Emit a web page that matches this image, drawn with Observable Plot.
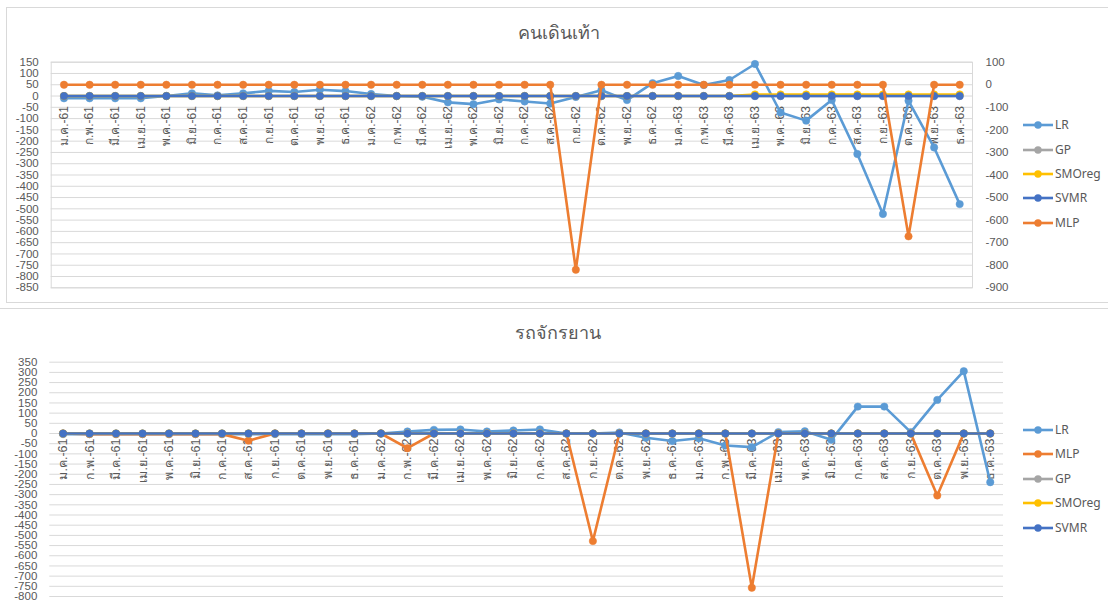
<!DOCTYPE html>
<html><head><meta charset="utf-8">
<script src="https://cdn.jsdelivr.net/npm/d3@7"></script>
<script src="https://cdn.jsdelivr.net/npm/@observablehq/plot@0.6"></script>
<style>
body{margin:0;background:#fff;font-family:"Noto Sans","Liberation Sans",sans-serif;}
#wrap{position:relative;width:1108px;height:609px;overflow:hidden;background:#fff;}
.title{position:absolute;font-size:18px;color:#595959;text-align:center;width:400px;line-height:20px;}
.leg{position:absolute;font-size:12px;color:#595959;line-height:14px;white-space:nowrap;}
</style></head><body><div id="wrap"></div>
<script>
// ---- categories ----
const monthNames = ["ม.ค.","ก.พ.","มี.ค.","เม.ย.","พ.ค.","มิ.ย.","ก.ค.","ส.ค.","ก.ย.","ต.ค.","พ.ย.","ธ.ค."];
const years = ["61","62","63"];
const months = years.flatMap(y => monthNames.map(m => `${m}-${y}`));

// ---- chart 1: คนเดินเท้า ----
const pedTitle = "คนเดินเท้า";
const pedLR = [-10,-10,-10,-10,0,12,3,12,23,18,28,22,
               9,0,-3,-28,-36,-15,-24,-33,-4,26,-18,57,
               89,49,71,142,-73,-109,-18,-257,-523,-21,-228,-479];
const pedGP = [0,0,0,0,0,0,0,0,0,0,0,0, 0,0,0,0,0,0,0,0,0,0,0,0, 0,0,0,0,0,0,0,0,0,0,0,0];
const pedSMOreg = [0,0,0,0,0,0,0,0,0,0,0,0, 0,0,0,0,0,0,0,0,0,0,0,0, 0,0,0,7,7,7,7,7,7,7,7,7];
const pedSVMR = [0,0,0,0,0,0,0,0,0,0,0,0, 0,0,0,0,0,0,0,0,0,0,0,0, 0,0,0,0,0,0,0,0,0,0,0,0];
// MLP is on the secondary (right) axis
const pedMLP = [0,0,0,0,0,0,0,0,0,0,0,0, 0,0,0,0,0,0,0,0,-820,0,0,0, 0,0,0,0,0,0,0,0,0,-672,0,0];
const pedLeftTicks = [150,100,50,0,-50,-100,-150,-200,-250,-300,-350,-400,-450,-500,-550,-600,-650,-700,-750,-800,-850];
const pedRightTicks = [100,0,-100,-200,-300,-400,-500,-600,-700,-800,-900];
const pedSecondaryOffset = 50; // secondary axis value v sits at primary value v + 50

// ---- chart 2: รถจักรยาน ----
const bikeTitle = "รถจักรยาน";
const bikeLR = [-3,-3,-3,-3,-3,-3,-3,-3,-3,-3,-3,-3,
                0,10,18,20,10,15,20,0,0,5,-21,-37,
                -23,-59,-67,7,11,-31,132,132,7,165,306,-239];
const bikeMLP = [0,-3,-3,-3,-3,-3,-3,-35,0,0,0,0,
                 0,-72,0,0,0,0,0,0,-528,0,0,0,
                 0,0,-757,0,0,0,0,0,0,-304,0,0];
const bikeGP = [0,0,0,0,0,0,0,0,0,0,0,0, 0,0,0,0,0,0,0,0,0,0,0,0, 0,0,0,0,0,0,0,0,0,0,0,0];
const bikeSMOreg = [0,0,0,0,0,0,0,0,0,0,0,0, 0,0,0,0,0,0,0,0,0,0,0,0, 0,0,0,0,0,0,0,0,0,0,0,0];
const bikeSVMR = [0,0,0,0,0,0,0,0,0,0,0,0, 0,0,0,0,0,0,0,0,0,0,0,0, 0,0,0,0,0,0,0,0,0,0,0,0];
const bikeTicks = [350,300,250,200,150,100,50,0,-50,-100,-150,-200,-250,-300,-350,-400,-450,-500,-550,-600,-650,-700,-750,-800];

const colors = {LR:"#5B9BD5", GP:"#A5A5A5", SMOreg:"#FFC000", SVMR:"#4472C4", MLP:"#ED7D31"};

const wrap = document.getElementById("wrap");
function add(el, css){ Object.assign(el.style, css); wrap.appendChild(el); return el; }

// category index positions on a linear x scale: each category occupies one unit
const idx = months.map((m,i) => i);

function seriesMarks(series){
  const marks = [];
  for (const s of series){
    const rows = months.map((m,i) => ({i, month:m, value:s.values[i]}));
    marks.push(Plot.line(rows, {x:"i", y:"value", stroke:colors[s.name], strokeWidth:2.6, strokeLinejoin:"round", strokeLinecap:"round"}));
    marks.push(Plot.dot(rows, {x:"i", y:"value", r:3.7, fill:colors[s.name], stroke:colors[s.name], strokeWidth:0.5}));
  }
  return marks;
}

function legend(names, x, ys){
  names.forEach((n,i) => {
    const svg = document.createElementNS("http://www.w3.org/2000/svg","svg");
    svg.setAttribute("width", 34); svg.setAttribute("height", 10);
    svg.innerHTML = `<line x1="1" y1="5" x2="31" y2="5" stroke="${colors[n]}" stroke-width="2.6"/><circle cx="16" cy="5" r="3.7" fill="${colors[n]}"/>`;
    add(svg, {position:"absolute", left:(x-1)+"px", top:(ys[i]-5)+"px"});
    const t = document.createElement("div");
    t.className = "leg"; t.textContent = n;
    add(t, {left:(x+32)+"px", top:(ys[i]-7)+"px"});
  });
}

// panel borders
add(document.createElement("div"), {position:"absolute", left:"6px", top:"7px", width:"1120px", height:"296px", border:"1px solid #d9d9d9", boxSizing:"border-box"});
add(document.createElement("div"), {position:"absolute", left:"0px", top:"308px", width:"1108px", height:"0px", borderTop:"1px solid #d9d9d9"});

const xScale = {type:"linear", domain:[-0.5, months.length - 0.5], axis:null, nice:false};

// ---- top chart ----
const topPlot = Plot.plot({
  width:1108, height:304,
  marginTop:61.7, marginBottom:16.7, marginLeft:50.7, marginRight:136,
  style:{color:"#595959", fontSize:"11.5px", fontFamily:'"Liberation Sans", "Noto Sans", sans-serif', background:"transparent", overflow:"visible"},
  x:xScale,
  y:{domain:[-850,150], axis:null},
  marks:[
    Plot.ruleY(pedLeftTicks, {stroke:"#d9d9d9", strokeWidth:1}),
    Plot.frame({stroke:"#d9d9d9"}),
    Plot.axisY(pedLeftTicks, {anchor:"left", tickSize:0, tickPadding:12.5, tickFormat:d => String(d), label:null}),
    Plot.axisY(pedRightTicks.map(v => v + pedSecondaryOffset), {anchor:"right", tickSize:0, tickPadding:13, tickFormat:d => String(d - pedSecondaryOffset), label:null}),
    Plot.text(idx, {x:d => d, y:() => 0, text:d => months[d], rotate:-90, textAnchor:"end", dy:10, fontSize:12, fill:"#595959"}),
    ...seriesMarks([
      {name:"LR", values:pedLR},
      {name:"GP", values:pedGP},
      {name:"SMOreg", values:pedSMOreg},
      {name:"SVMR", values:pedSVMR},
      {name:"MLP", values:pedMLP.map(v => v + pedSecondaryOffset)}
    ])
  ]
});
add(topPlot, {position:"absolute", left:"0px", top:"0px"});
const t1 = document.createElement("div"); t1.className="title"; t1.textContent = pedTitle;
add(t1, {left:(559-200)+"px", top:"22px"});
legend(["LR","GP","SMOreg","SVMR","MLP"], 1023, [125.3,149.6,173.9,198.2,222.5]);

// ---- bottom chart ----
const botPlot = Plot.plot({
  width:1108, height:300,
  marginTop:52.7, marginBottom:13, marginLeft:49.3, marginRight:105,
  style:{color:"#595959", fontSize:"11.5px", fontFamily:'"Liberation Sans", "Noto Sans", sans-serif', background:"transparent", overflow:"visible"},
  x:xScale,
  y:{domain:[-800,350], axis:null},
  marks:[
    Plot.ruleY(bikeTicks, {stroke:"#d9d9d9", strokeWidth:1}),
    Plot.axisY(bikeTicks, {anchor:"left", tickSize:0, tickPadding:12.5, tickFormat:d => String(d), label:null}),
    Plot.text(idx, {x:d => d, y:() => 0, text:d => months[d], rotate:-90, textAnchor:"end", dy:5, fontSize:12.5, fill:"#595959"}),
    ...seriesMarks([
      {name:"LR", values:bikeLR},
      {name:"MLP", values:bikeMLP},
      {name:"GP", values:bikeGP},
      {name:"SMOreg", values:bikeSMOreg},
      {name:"SVMR", values:bikeSVMR}
    ])
  ]
});
add(botPlot, {position:"absolute", left:"0px", top:"309px"});
const t2 = document.createElement("div"); t2.className="title"; t2.textContent = bikeTitle;
add(t2, {left:(558-200)+"px", top:"322px"});
legend(["LR","MLP","GP","SMOreg","SVMR"], 1023, [430,454.4,478.8,503.2,527.6]);
</script></body></html>
